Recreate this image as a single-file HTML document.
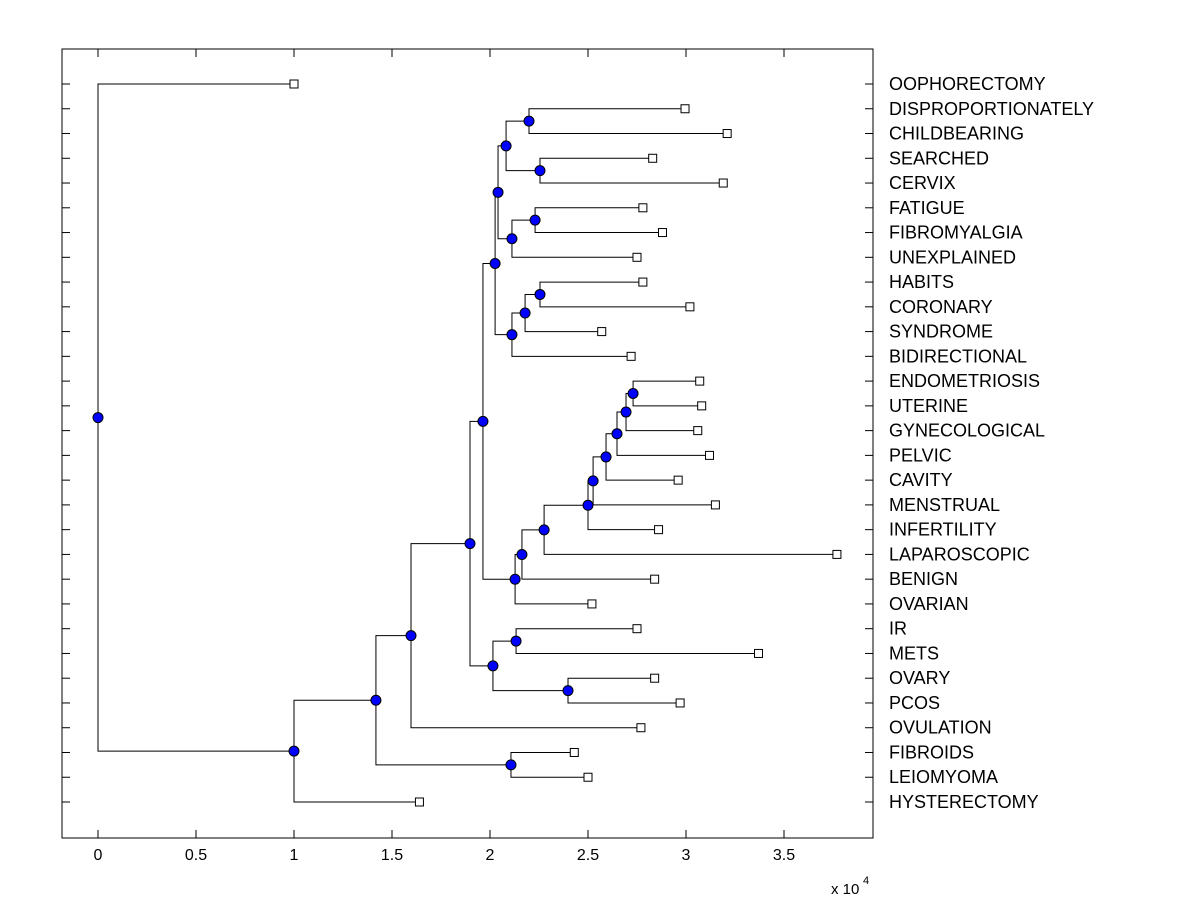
<!DOCTYPE html>
<html><head><meta charset="utf-8"><style>
html,body{margin:0;padding:0;background:#fff;}
svg{display:block;font-family:"Liberation Sans",Arial,sans-serif;}
</style></head><body>
<svg id="chart" width="1200" height="900">
<rect x="0" y="0" width="1200" height="900" fill="#fff"/>
<g id="axes"></g><g id="links"></g><g id="marks"></g><g id="labels"></g>
</svg>
<script>
// Leaf labels (top to bottom) and leaf heights (x 1e4)
const leafNames = ["OOPHORECTOMY","DISPROPORTIONATELY","CHILDBEARING","SEARCHED","CERVIX","FATIGUE","FIBROMYALGIA","UNEXPLAINED","HABITS","CORONARY","SYNDROME","BIDIRECTIONAL","ENDOMETRIOSIS","UTERINE","GYNECOLOGICAL","PELVIC","CAVITY","MENSTRUAL","INFERTILITY","LAPAROSCOPIC","BENIGN","OVARIAN","IR","METS","OVARY","PCOS","OVULATION","FIBROIDS","LEIOMYOMA","HYSTERECTOMY"];
const leafValues = [1.0,2.995,3.21,2.83,3.19,2.78,2.88,2.75,2.78,3.02,2.57,2.72,3.07,3.08,3.06,3.12,2.96,3.15,2.86,3.77,2.84,2.52,2.75,3.37,2.84,2.97,2.77,2.43,2.5,1.64];
// Merges (node ids 30+ in order): child A, child B, merge height
const mergeA = [1,3,5,30,32,8,35,36,33,12,39,40,41,42,43,44,45,46,22,24,48,38,51,52,27,53,55,56,0];
const mergeB = [2,4,6,31,7,9,10,11,34,13,14,15,16,17,18,19,20,21,23,25,49,37,47,50,28,26,54,29,57];
const mergeValues = [2.199,2.255,2.23,2.082,2.112,2.255,2.179,2.112,2.041,2.73,2.694,2.648,2.592,2.526,2.5,2.276,2.163,2.128,2.133,2.398,2.015,2.026,1.964,1.898,2.107,1.597,1.418,1.0,0.0];
const xTicks = [0,0.5,1,1.5,2,2.5,3,3.5];
const xTickLabels = ["0","0.5","1","1.5","2","2.5","3","3.5"];
</script>
<script>
const NS="http://www.w3.org/2000/svg";
const L=62,R=873,T=49,B=838;
const xs=v=>98+v*196;
const row0=84,rowStep=(802-84)/29;
const ys=i=>row0+i*rowStep;
function mk(tag,attrs,parent){const e=document.createElementNS(NS,tag);for(const k in attrs)e.setAttribute(k,attrs[k]);document.getElementById(parent).appendChild(e);return e;}
const nx=[],ny=[];
leafNames.forEach((n,i)=>{nx[i]=xs(leafValues[i]);ny[i]=ys(i);});
mergeA.forEach((a,k)=>{const b=mergeB[k],id=30+k;nx[id]=xs(mergeValues[k]);ny[id]=(ny[a]+ny[b])/2;});
let e=mk('rect',{x:L,y:T,width:R-L,height:B-T,fill:'none',stroke:'#000','stroke-width':1},'axes');

xTicks.forEach((t,i)=>{const x=xs(t);
 e=mk('line',{x1:x,x2:x,y1:B,y2:B-8,stroke:'#000'},'axes');
 e=mk('line',{x1:x,x2:x,y1:T,y2:T+8,stroke:'#000'},'axes');
 e=mk('text',{x:x,y:B+22,'font-size':16,'text-anchor':'middle'},'axes');e.textContent=xTickLabels[i];
 });
e=mk('text',{x:831,y:894,'font-size':15},'axes');e.textContent='x 10';
e=mk('text',{x:863,y:884,'font-size':11},'axes');e.textContent='4';
leafNames.forEach((n,i)=>{const y=ys(i);
 e=mk('line',{x1:L,x2:L+8,y1:y,y2:y,stroke:'#000'},'axes');
 e=mk('line',{x1:R,x2:R-8,y1:y,y2:y,stroke:'#000'},'axes');
 e=mk('text',{x:889,y:y+6,'font-size':18},'labels');e.textContent=n;
 });
mergeA.forEach((a,k)=>{const b=mergeB[k],id=30+k,x=nx[id];
 const d=`M${nx[a]},${ny[a]}H${x}V${ny[b]}H${nx[b]}`;
 e=mk('path',{d:d,fill:'none',stroke:'#000','stroke-width':1},'links');
 });
leafNames.forEach((n,i)=>{e=mk('rect',{x:nx[i]-4,y:ny[i]-4,width:8,height:8,fill:'#fff',stroke:'#000'},'marks');
 });
mergeA.forEach((a,k)=>{const id=30+k;e=mk('circle',{cx:nx[id],cy:ny[id],r:5,fill:'#0000ff',stroke:'#000'},'marks');
 });
</script>
</body></html>
